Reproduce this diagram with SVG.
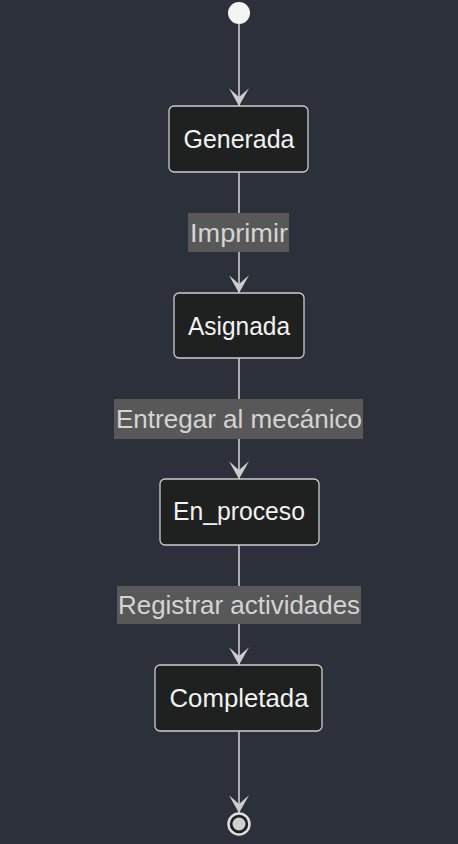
<svg xmlns="http://www.w3.org/2000/svg" width="458" height="844" viewBox="0 0 458 844">
<style>
.bg{fill:#2b303b}
.node rect{fill:#1f2020;stroke:#cccccc;stroke-width:1.3}
.node text{font-family:"Liberation Sans",Arial,sans-serif;font-size:25px;fill:#f2f2f2;text-anchor:middle}
.edge{stroke:#cccccc;stroke-width:1.6;fill:none}
.lbl rect{fill:#585858}
.lbl text{font-family:"Liberation Sans",Arial,sans-serif;font-size:25px;fill:#d4d4d4;text-anchor:middle}
</style>
<defs>
<marker id="arr" markerUnits="userSpaceOnUse" markerWidth="18" markerHeight="20" viewBox="0 0 16 18" refX="16" refY="9" orient="auto">
<path d="M16,9 L0,18 L8,9 L0,0 Z" fill="#cccccc"/>
</marker>
</defs>
<rect class="bg" x="0" y="0" width="458" height="844"/>
<g id="connectors">
<line class="edge" x1="239" y1="24" x2="239" y2="106" marker-end="url(#arr)"/>
<line class="edge" x1="239" y1="172" x2="239" y2="293" marker-end="url(#arr)"/>
<line class="edge" x1="239" y1="358" x2="239" y2="479" marker-end="url(#arr)"/>
<line class="edge" x1="239" y1="545" x2="239" y2="665" marker-end="url(#arr)"/>
<line class="edge" x1="239" y1="731" x2="239" y2="813" marker-end="url(#arr)"/>
<g class="lbl" id="label-imprimir"><rect x="188" y="213" width="101" height="39"/><text x="239" y="241.5" textLength="98" lengthAdjust="spacingAndGlyphs">Imprimir</text></g>
<g class="lbl" id="label-entregar"><rect x="114" y="399" width="249" height="40"/><text x="239" y="428" textLength="246" lengthAdjust="spacingAndGlyphs">Entregar al mecánico</text></g>
<g class="lbl" id="label-registrar"><rect x="117" y="586" width="244" height="38"/><text x="239" y="614" textLength="242" lengthAdjust="spacingAndGlyphs">Registrar actividades</text></g>
</g>
<g id="start"><circle cx="239" cy="13" r="11" fill="#f4f4f4"/></g>
<g class="node" id="Generada"><rect x="169" y="106" width="139" height="66" rx="5"/><text x="239" y="148" textLength="111" lengthAdjust="spacingAndGlyphs">Generada</text></g>
<g class="node" id="Asignada"><rect x="174" y="293" width="130" height="65" rx="5"/><text x="239" y="334.5" textLength="102" lengthAdjust="spacingAndGlyphs">Asignada</text></g>
<g class="node" id="En_proceso"><rect x="160" y="479" width="159" height="66" rx="5"/><text x="239" y="520" textLength="132" lengthAdjust="spacingAndGlyphs">En_proceso</text></g>
<g class="node" id="Completada"><rect x="155" y="665" width="167" height="66" rx="5"/><text x="239" y="707" textLength="139" lengthAdjust="spacingAndGlyphs">Completada</text></g>
<g id="end"><circle cx="239" cy="824" r="10.5" fill="#1f2020" stroke="#dddddd" stroke-width="2.5"/><circle cx="239" cy="824" r="6.5" fill="#cfcfcf"/></g>
</svg>
